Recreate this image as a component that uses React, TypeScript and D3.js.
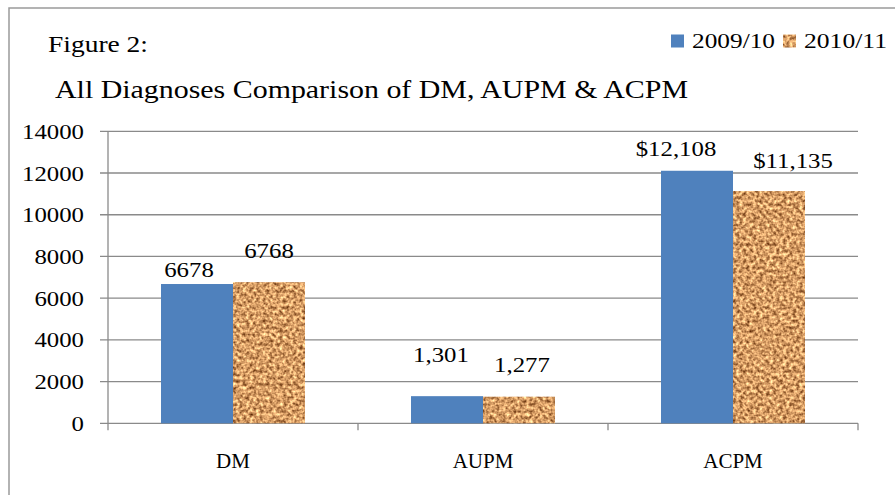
import React, { useEffect, useRef } from "react";
import * as d3 from "d3";

// Chart data
const categories = ["DM", "AUPM", "ACPM"];
const seriesNames = ["2009/10", "2010/11"];
const values2009 = [6678, 1301, 12108];
const values2010 = [6768, 1277, 11135];
const yTicks = [0, 2000, 4000, 6000, 8000, 10000, 12000, 14000];
// number format per category for the value labels
const labelFormats = ["d", ",", "$,"];

// label placement relative to each bar (dx from bar centre, dy above bar top)
const labelDx2009 = [-8, -6, -21];
const labelDy2009 = [7, 34, 15];
const labelDx2010 = [0, 3, 24];
const labelDy2010 = [24, 25, 23];

const W = 895;
const H = 495;
const FONT = "'Liberation Serif', 'Times New Roman', serif";
const BLUE = "#4f81bd";
const GRID = "#8a8a8a";

export default function App() {
  const ref = useRef<SVGSVGElement | null>(null);

  useEffect(() => {
    const svg = d3.select(ref.current);
    svg.selectAll("*").remove();

    // cork-like texture for the second series
    const defs = svg.append("defs");
    const f = defs
      .append("filter")
      .attr("id", "cork")
      .attr("x", 0)
      .attr("y", 0)
      .attr("width", 1)
      .attr("height", 1)
      .attr("color-interpolation-filters", "sRGB");
    f.append("feTurbulence")
      .attr("type", "fractalNoise")
      .attr("baseFrequency", 0.3)
      .attr("numOctaves", 2)
      .attr("seed", 7)
      .attr("result", "n");
    f.append("feColorMatrix")
      .attr("in", "n")
      .attr("type", "matrix")
      .attr(
        "values",
        "1.2 0 0 0 0.24  1.15 0 0 0 0.04  0.95 0 0 0 -0.08  0 0 0 0 1"
      )
      .attr("result", "c");
    f.append("feGaussianBlur").attr("in", "c").attr("stdDeviation", 0.7).attr("result", "b");
    f.append("feComposite")
      .attr("in", "b")
      .attr("in2", "SourceGraphic")
      .attr("operator", "in");

    // outer frame
    svg
      .append("rect")
      .attr("x", 9)
      .attr("y", 8)
      .attr("width", 1000)
      .attr("height", 1000)
      .attr("fill", "none")
      .attr("stroke", "#9a9a9a")
      .attr("stroke-width", 1.5);

    const x0 = d3.scaleBand<string>().domain(categories).range([108, 858]).padding(0);
    const x1 = d3
      .scaleBand<string>()
      .domain(seriesNames)
      .range([0, x0.bandwidth()])
      .paddingInner(0)
      .paddingOuter(0.736);
    const y = d3.scaleLinear().domain([0, 14000]).range([423.3, 131.3]);

    // gridlines with outward ticks
    const g = svg.append("g");
    g.selectAll("line.grid")
      .data(yTicks)
      .join("line")
      .attr("x1", 100)
      .attr("x2", 858)
      .attr("y1", (d) => y(d))
      .attr("y2", (d) => y(d))
      .attr("stroke", GRID)
      .attr("stroke-width", 1.3);

    // y axis line
    g.append("line")
      .attr("x1", 108)
      .attr("x2", 108)
      .attr("y1", y(14000))
      .attr("y2", y(0) + 7)
      .attr("stroke", GRID)
      .attr("stroke-width", 1.3);

    // category boundary ticks
    const bounds = categories.map((c) => (x0(c) as number) + x0.bandwidth());
    g.selectAll("line.xt")
      .data(bounds)
      .join("line")
      .attr("x1", (d) => d)
      .attr("x2", (d) => d)
      .attr("y1", y(0))
      .attr("y2", y(0) + 7)
      .attr("stroke", GRID)
      .attr("stroke-width", 1.3);

    const texts = svg.append("g").style("font-family", FONT);

    // y tick labels
    texts
      .append("g")
      .selectAll("text")
      .data(yTicks)
      .join("text")
      .attr("x", 84)
      .attr("y", (d) => y(d) + 7.5)
      .attr("text-anchor", "end")
      .attr("font-size", 21)
      .attr("data-stretch", 1.18)
      .text((d) => String(d));

    // bars
    const rows = categories.map((c, i) => ({
      cat: c,
      i,
      vals: [values2009[i], values2010[i]],
    }));
    const bars = svg.append("g");
    rows.forEach((r) => {
      seriesNames.forEach((s, si) => {
        const v = r.vals[si];
        const bx = (x0(r.cat) as number) + (x1(s) as number);
        bars
          .append("rect")
          .attr("x", bx)
          .attr("y", y(v))
          .attr("width", x1.bandwidth())
          .attr("height", y(0) - y(v))
          .attr("fill", si === 0 ? BLUE : "#d09a66")
          .attr("filter", si === 0 ? null : "url(#cork)");

        const dx = si === 0 ? labelDx2009[r.i] : labelDx2010[r.i];
        const dy = si === 0 ? labelDy2009[r.i] : labelDy2010[r.i];
        texts
          .append("text")
          .attr("x", bx + x1.bandwidth() / 2 + dx)
          .attr("y", y(v) - dy)
          .attr("text-anchor", "middle")
          .attr("font-size", 20)
          .attr("data-stretch", 1.24)
          .text(d3.format(labelFormats[r.i])(v));
      });
    });

    // category labels
    texts
      .append("g")
      .selectAll("text")
      .data(categories)
      .join("text")
      .attr("x", (d) => (x0(d) as number) + x0.bandwidth() / 2)
      .attr("y", 468)
      .attr("text-anchor", "middle")
      .attr("font-size", 21)
      .text((d) => d);

    // headings
    texts
      .append("text")
      .attr("x", 48)
      .attr("y", 52)
      .attr("font-size", 24)
      .attr("data-width", 100)
      .text("Figure 2:");
    texts
      .append("text")
      .attr("x", 55)
      .attr("y", 98)
      .attr("font-size", 26)
      .attr("data-width", 633)
      .text("All Diagnoses Comparison of DM, AUPM & ACPM");

    // legend
    const legendX = [671, 783];
    seriesNames.forEach((s, si) => {
      svg
        .append("rect")
        .attr("x", legendX[si])
        .attr("y", 34.5)
        .attr("width", 13)
        .attr("height", 13)
        .attr("fill", si === 0 ? BLUE : "#d09a66")
        .attr("filter", si === 0 ? null : "url(#cork)");
      texts
        .append("text")
        .attr("x", legendX[si] + 21)
        .attr("y", 48)
        .attr("font-size", 20)
        .attr("data-width", 83)
        .text(s);
    });

    // widen glyphs horizontally to the set proportions
    svg.selectAll<SVGTextElement, unknown>("text").each(function () {
      const el = this as SVGTextElement;
      const w = el.getAttribute("data-width");
      const k = el.getAttribute("data-stretch");
      const natural = el.getComputedTextLength();
      let target: number | null = null;
      if (w) target = +w;
      else if (k) target = natural * +k;
      if (target && Math.abs(target - natural) > 0.5) {
        el.setAttribute("textLength", String(target));
        el.setAttribute("lengthAdjust", "spacingAndGlyphs");
      }
    });
  }, []);

  return (
    <svg
      ref={ref}
      width={W}
      height={H}
      style={{ position: "absolute", left: 0, top: 0, background: "#fff" }}
    />
  );
}
